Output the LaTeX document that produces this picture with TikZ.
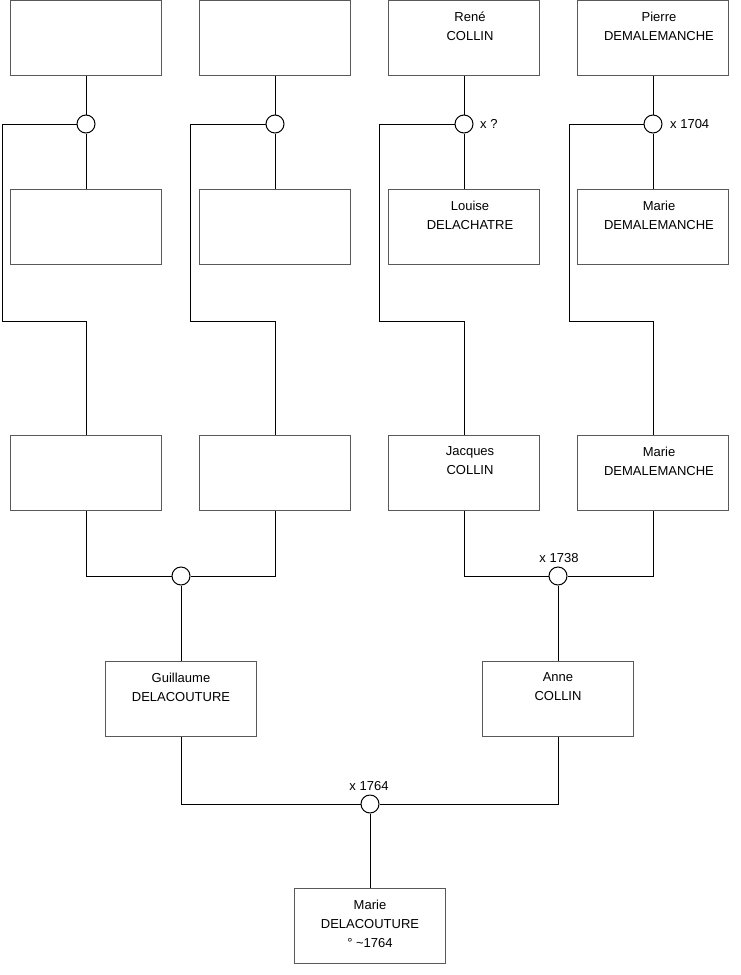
\documentclass[tikz,border=0pt]{standalone}
\usepackage{fontspec}
\setmainfont{Liberation Sans}
\begin{document}
\begin{tikzpicture}[x=1pt, y=-1pt,
  person/.style={draw=black!65, line width=1pt, minimum width=151pt, minimum height=75pt, inner sep=0pt},
  union/.style={draw, line width=1pt, circle, minimum size=18pt, inner sep=0pt, fill=white},
  ident/.style={anchor=north, align=center, inner sep=0pt, font=\fontsize{13}{19}\selectfont, execute at begin node=\strut},
  mdate/.style={inner sep=0pt, font=\fontsize{13}{15}\selectfont},
  link/.style={draw=black, line width=1pt}]
\useasboundingbox (0,0) rectangle (740,975);
% great-grandparents
\node[person] (anc1) at (86,38) {};
\node[person] (anc2) at (275,38) {};
\node[person] (rene) at (464,38) {};
\node[person] (pierre) at (653,38) {};
\node[person] (sp1) at (86,227) {};
\node[person] (sp2) at (275,227) {};
\node[person] (louise) at (464,227) {};
\node[person] (marieA) at (653,227) {};
\node[ident, xshift=6pt] (n-rene) at ([yshift=-11.5pt]rene.north) {René\\COLLIN};
\node[ident, xshift=6pt] (n-pierre) at ([yshift=-11.5pt]pierre.north) {Pierre\\DEMALEMANCHE};
\node[ident, xshift=6pt] (n-louise) at ([yshift=-11.5pt]louise.north) {Louise\\DELACHATRE};
\node[ident, xshift=6pt] (n-marieA) at ([yshift=-11.5pt]marieA.north) {Marie\\DEMALEMANCHE};
% grandparents
\node[person] (par1) at (86,473) {};
\node[person] (par2) at (275,473) {};
\node[person] (jacques) at (464,473) {};
\node[person] (marieB) at (653,473) {};
\node[ident, xshift=6pt] (n-jacques) at ([yshift=-11.5pt]jacques.north) {Jacques\\COLLIN};
\node[ident, xshift=6pt] (n-marieB) at ([yshift=-11.5pt]marieB.north) {Marie\\DEMALEMANCHE};
% parents
\node[person] (guillaume) at (181,699) {};
\node[person] (anne) at (558,699) {};
\node[ident] (n-guillaume) at ([yshift=-11.5pt]guillaume.north) {Guillaume\\DELACOUTURE};
\node[ident] (n-anne) at ([yshift=-11.5pt]anne.north) {Anne\\COLLIN};
% child
\node[person] (marie) at (370,926) {};
\node[ident] (n-marie) at ([yshift=-11.5pt]marie.north) {Marie\\DELACOUTURE\\° \textasciitilde1764};
% unions
\node[union] (u1) at (86,124) {};
\node[union] (u2) at (275,124) {};
\node[union] (u3) at (464,124) {};
\node[union] (u4) at (653,124) {};
\node[union] (u5) at (181,576) {};
\node[union] (u6) at (558,576) {};
\node[union] (u7) at (370,804) {};
\node[mdate, anchor=west] (m3) at (480,124) {x ?};
\node[mdate, anchor=west] (m4) at (670,124) {x 1704};
\node[mdate] (m6) at (559,558) {x 1738};
\node[mdate] (m7) at (369,786) {x 1764};
% bends
\coordinate (k1) at (2,321);
\coordinate (k2) at (190,321);
\coordinate (k3) at (379,321);
\coordinate (k4) at (569,321);
\draw[link] (anc1) -- (u1);
\draw[link] (anc2) -- (u2);
\draw[link] (rene) -- (u3);
\draw[link] (pierre) -- (u4);
\draw[link] (u1) -- (sp1);
\draw[link] (u2) -- (sp2);
\draw[link] (u3) -- (louise);
\draw[link] (u4) -- (marieA);
\draw[link] (u1.west) -| (k1) -| (par1.north);
\draw[link] (u2.west) -| (k2) -| (par2.north);
\draw[link] (u3.west) -| (k3) -| (jacques.north);
\draw[link] (u4.west) -| (k4) -| (marieB.north);
\draw[link] (par1) |- (u5);
\draw[link] (par2) |- (u5);
\draw[link] (jacques) |- (u6);
\draw[link] (marieB) |- (u6);
\draw[link] (u5) -- (guillaume);
\draw[link] (u6) -- (anne);
\draw[link] (guillaume) |- (u7);
\draw[link] (anne) |- (u7);
\draw[link] (u7) -- (marie);
\end{tikzpicture}
\end{document}
